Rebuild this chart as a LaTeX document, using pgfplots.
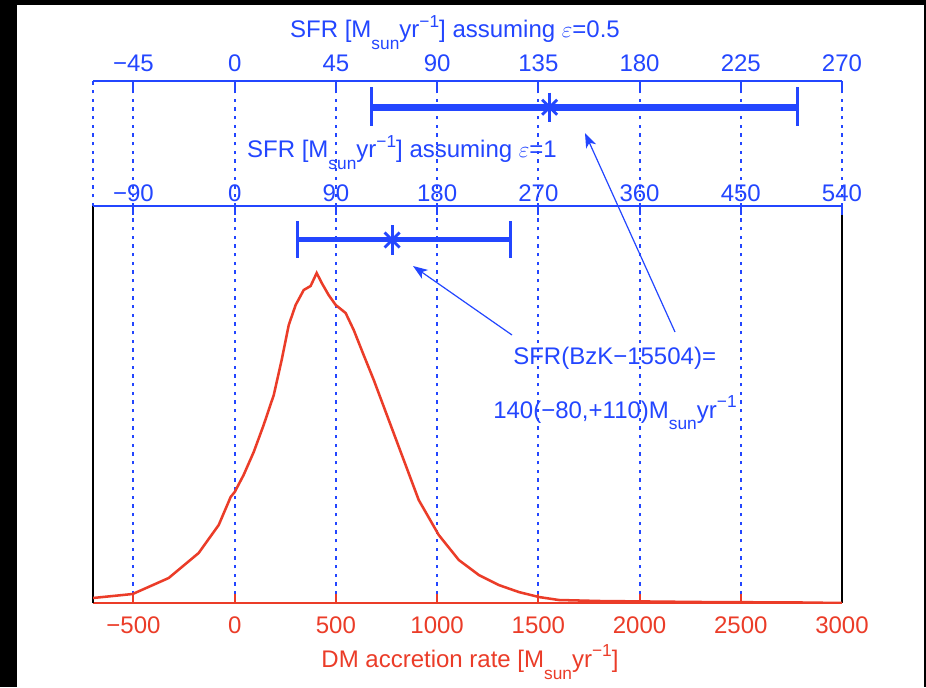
\documentclass[border=0pt]{standalone}
\usepackage{fontspec}
\setmainfont{Liberation Sans}
\usepackage{pgfplots}
\pgfplotsset{compat=1.18}
\usetikzlibrary{arrows.meta}
\definecolor{mblue}{RGB}{35,70,255}
\definecolor{mred}{RGB}{235,60,40}
\newcommand{\fs}{\fontsize{18}{21}\selectfont}
\newcommand{\Msun}{M\raisebox{-0.5em}{\fontsize{13}{13}\selectfont sun}yr\raisebox{0.45em}{\fontsize{13}{13}\selectfont −1}}
\begin{document}
\begin{tikzpicture}
\fill[black] (0,0) rectangle (694.5pt,515.25pt);
\fill[white] (12.75pt,0) rectangle (693pt,511.5pt);

% main axis: DM accretion rate
\begin{axis}[at={(69.75pt,63pt)}, anchor=south west, scale only axis,
  width=561.75pt, height=297.75pt,
  xmin=-700, xmax=3000, ymin=0, ymax=397,
  separate axis lines,
  x axis line style={mred, line width=2pt},
  y axis line style={black, line width=1.6pt},
  xtick={-500,0,...,3000},
  xticklabels={−500,0,500,1000,1500,2000,2500,3000},
  xtick pos=left, ytick=\empty,
  tick align=inside, major tick length=7pt,
  xtick style={mred, line width=1.5pt},
  xticklabel style={mred, font=\fs, yshift=-7pt},
  xmajorgrids,
  grid style={mblue, line width=1.5pt, dash pattern=on 2.5pt off 4pt},
]
\addplot[mred, line width=1.9pt] coordinates {
(-700,5) (-504,9) (-326,25) (-178,50) (-79,78) (-20,106) (0,111) (44,128)
(94,151) (143,178) (193,208) (232,243) (267,278) (301,298) (341,313) (375,317)
(405,330) (430,320) (464,308) (499,298) (548,290) (588,273) (637,248) (687,223)
(761,183) (835,143) (909,103) (1008,68) (1107,43) (1206,28) (1304,18) (1403,11)
(1502,6) (1601,3) (1798,2) (2292,1) (2800,0.5) (3000,0)};
\end{axis}

% overlay: SFR assuming eps=1
\begin{axis}[at={(69.75pt,63pt)}, anchor=south west, scale only axis,
  width=561.75pt, height=297.75pt,
  xmin=-126, xmax=540, ymin=0, ymax=397,
  axis x line*=top, axis y line=none,
  x axis line style={mblue, line width=2pt, -},
  xtick={-90,0,...,540},
  xticklabels={−90,0,90,180,270,360,450,540},
  tick align=inside, major tick length=7pt,
  xtick style={mblue, line width=1.5pt},
  xticklabel style={mblue, font=\fs},
  clip=false]
\addplot[mblue, line width=3.75pt] coordinates {(56,363) (245,363)};
\addplot[mblue, line width=2.25pt] coordinates {(56,345) (56,382)};
\addplot[mblue, line width=2.25pt] coordinates {(245,345) (245,382)};
\addplot[mblue, only marks, mark=|, mark size=11pt, mark options={line width=2.2pt}] coordinates {(140,363)};
\addplot[mblue, only marks, mark=x, mark size=8pt, mark options={line width=2.2pt}] coordinates {(140,363)};
\end{axis}

% upper panel: SFR assuming eps=0.5
\begin{axis}[at={(69.75pt,360.75pt)}, anchor=south west, scale only axis,
  width=561.75pt, height=93.75pt,
  xmin=-63, xmax=270, ymin=0, ymax=1,
  axis x line*=top, axis y line=none,
  x axis line style={mblue, line width=2pt, -},
  xtick={-45,0,...,270},
  xticklabels={−45,0,45,90,135,180,225,270},
  tick align=inside, major tick length=6.5pt,
  xtick style={mblue, line width=1.5pt},
  xticklabel style={mblue, font=\fs, yshift=3.5pt},
  xmajorgrids,
  grid style={mblue, line width=1.5pt, dash pattern=on 2.5pt off 4pt},
  extra x ticks={-63}, extra x tick labels={},
  extra x tick style={major tick length=0pt, grid=major},
  clip=false]
\addplot[mblue, line width=5.25pt] coordinates {(61,0.79) (250,0.79)};
\addplot[mblue, line width=2.25pt] coordinates {(61,0.64) (61,0.95)};
\addplot[mblue, line width=2.25pt] coordinates {(250,0.64) (250,0.95)};
\addplot[mblue, only marks, mark=|, mark size=11pt, mark options={line width=2.2pt}] coordinates {(140,0.79)};
\addplot[mblue, only marks, mark=x, mark size=8pt, mark options={line width=2.2pt}] coordinates {(140,0.79)};
\end{axis}

\node[anchor=base, mblue, font=\fs] at (341.25pt,486.75pt) {SFR [\Msun] assuming $\varepsilon$=0.5};
\node[anchor=base, mblue, font=\fs] at (301.5pt,396.75pt) {SFR [\Msun] assuming $\varepsilon$=1};
\node[anchor=base, mred, font=\fs] at (352.5pt,15pt) {DM accretion rate [\Msun]};
\node[anchor=base west, mblue, font=\fs, inner sep=0pt] at (384.75pt,241.5pt) {SFR(BzK−15504)=};
\node[anchor=base west, mblue, font=\fs, inner sep=0pt] at (369.75pt,201.75pt) {140(−80,+110)\Msun};
\draw[mblue, line width=0.9pt, -{Stealth[length=11pt,width=8pt,inset=3pt]}] (384pt,264pt) -- (309.75pt,315.75pt);
\draw[mblue, line width=0.9pt, -{Stealth[length=11pt,width=8pt,inset=3pt]}] (506.25pt,266.25pt) -- (438.75pt,415.5pt);

\pgfresetboundingbox
\useasboundingbox (0,0) rectangle (694.5pt,515.25pt);
\end{tikzpicture}
\end{document}
